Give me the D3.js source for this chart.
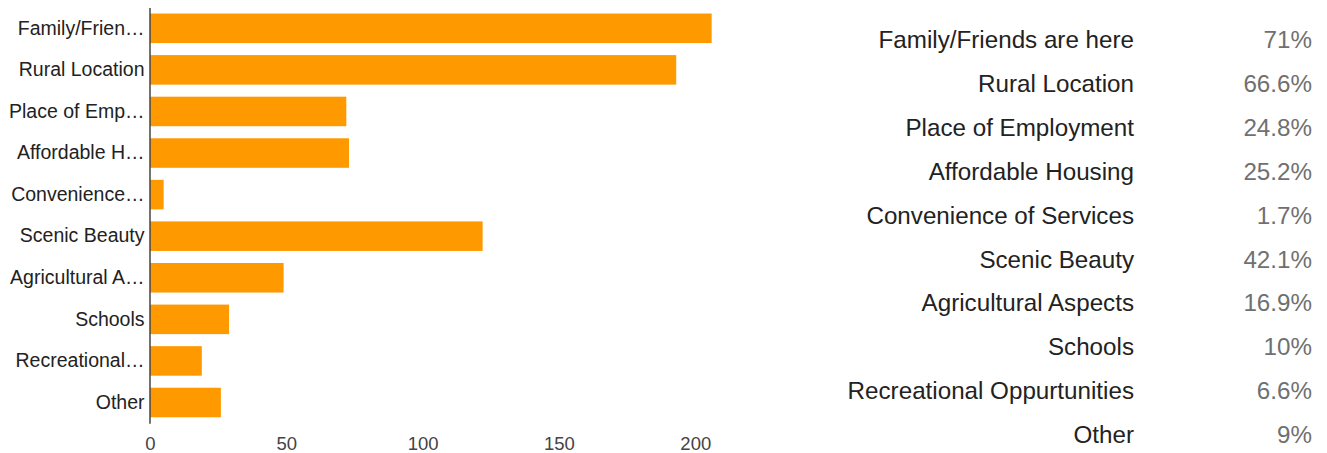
<!DOCTYPE html>
<html>
<head>
<meta charset="utf-8">
<script src="https://cdn.jsdelivr.net/npm/d3@7"></script>
<style>
  html, body { margin: 0; padding: 0; background: #fff; }
  svg { display: block; font-family: Arial, "Liberation Sans", sans-serif; }
</style>
</head>
<body>
<svg id="chart" width="1327" height="453"></svg>
<script>
const categories = [
  "Family/Friends are here",
  "Rural Location",
  "Place of Employment",
  "Affordable Housing",
  "Convenience of Services",
  "Scenic Beauty",
  "Agricultural Aspects",
  "Schools",
  "Recreational Oppurtunities",
  "Other"
];
const axisLabels = [
  "Family/Frien\u2026",
  "Rural Location",
  "Place of Emp\u2026",
  "Affordable H\u2026",
  "Convenience\u2026",
  "Scenic Beauty",
  "Agricultural A\u2026",
  "Schools",
  "Recreational\u2026",
  "Other"
];
const counts = [206, 193, 72, 73, 5, 122, 49, 29, 19, 26];
const percents = ["71%", "66.6%", "24.8%", "25.2%", "1.7%", "42.1%", "16.9%", "10%", "6.6%", "9%"];
const xTicks = [0, 50, 100, 150, 200];

const svg = d3.select("#chart");

const x = d3.scaleLinear().domain([0, 200]).range([150, 695.3]);
const y = d3.scaleBand().domain(categories).range([7.5, 423.3]).paddingInner(0.29).paddingOuter(0.145);

// bars
svg.append("g").selectAll("rect")
  .data(categories)
  .join("rect")
  .attr("x", x(0))
  .attr("y", d => y(d))
  .attr("width", (d, i) => x(counts[i]) - x(0))
  .attr("height", y.bandwidth())
  .attr("fill", "#ff9900");

// y axis
const yAxis = d3.axisLeft(y).tickSize(0).tickPadding(5)
  .tickFormat((d, i) => axisLabels[i]);
const gy = svg.append("g").attr("transform", `translate(${x(0) - 0.5},0)`).call(yAxis);
gy.select(".domain").attr("stroke", "#444").attr("stroke-width", 1.5);
gy.selectAll("text").attr("font-size", 19.5).attr("fill", "#222")
  .attr("font-family", "Arial, 'Liberation Sans', sans-serif");

// x axis (labels only)
const xAxis = d3.axisBottom(x).tickValues(xTicks).tickSize(0).tickPadding(0);
const gx = svg.append("g").attr("transform", "translate(0,437)").call(xAxis);
gx.select(".domain").remove();
gx.selectAll("text").attr("font-size", 18.5).attr("fill", "#444").attr("dy", "0.71em")
  .attr("font-family", "Arial, 'Liberation Sans', sans-serif");

// right-hand table
const rowY = d3.scalePoint().domain(categories).range([48.3, 443]);
const table = svg.append("g");
table.selectAll("text.lbl")
  .data(categories)
  .join("text")
  .attr("class", "lbl")
  .attr("x", 1134)
  .attr("y", d => rowY(d))
  .attr("text-anchor", "end")
  .attr("font-size", 24.2)
  .attr("fill", "#222")
  .text(d => d);
table.selectAll("text.pct")
  .data(categories)
  .join("text")
  .attr("class", "pct")
  .attr("x", 1312)
  .attr("y", d => rowY(d))
  .attr("text-anchor", "end")
  .attr("font-size", 24.2)
  .attr("fill", "#707070")
  .text((d, i) => percents[i]);
</script>
</body>
</html>
